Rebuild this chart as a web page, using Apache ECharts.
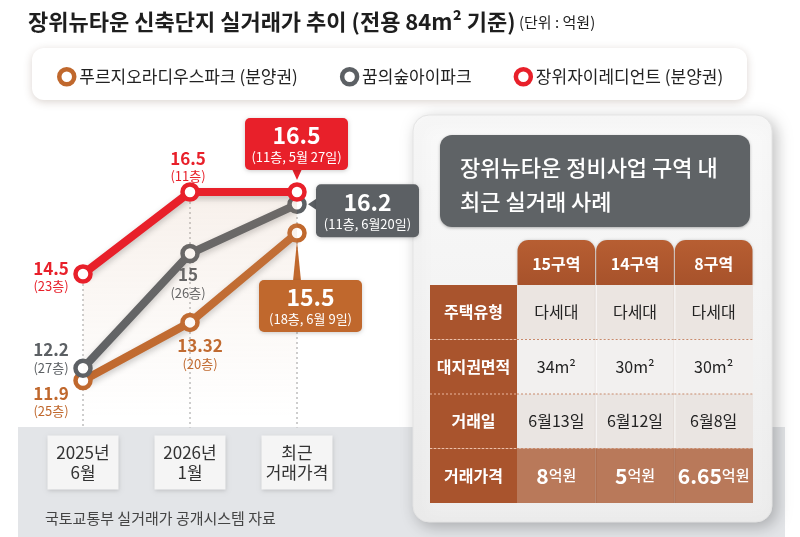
<!DOCTYPE html>
<html>
<head>
<meta charset="utf-8">
<script src="https://cdn.jsdelivr.net/npm/echarts@6/dist/echarts.min.js"></script>
<style>
  html, body { margin: 0; padding: 0; background: #fff; }
  #chart { width: 800px; height: 537px; }
</style>
</head>
<body>
<div id="chart"></div>
<script>
// ---- data ----
const periods = ['2025년\n6월', '2026년\n1월', '최근\n거래가격'];
const seriesNames = ['푸르지오라디우스파크 (분양권)', '꿈의숲아이파크', '장위자이레디언트 (분양권)'];
const prugio = [11.9, 13.32, 15.5];
const dreamForest = [12.2, 15, 16.2];
const xiRadiant = [14.5, 16.5, 16.5];
const prugioFloors = ['25층', '20층', '18층'];
const dreamFloors = ['27층', '26층', '11층'];
const xiFloors = ['23층', '11층', '11층'];
const latestDates = ['6월 9일', '6월20일', '5월 27일'];

const zones = ['15구역', '14구역', '8구역'];
const rowNames = ['주택유형', '대지권면적', '거래일', '거래가격'];
const houseType = ['다세대', '다세대', '다세대'];
const landArea = ['34m²', '30m²', '30m²'];
const dealDate = ['6월13일', '6월12일', '6월8일'];
const dealPrice = [8, 5, 6.65];

// ---- styles ----
const FONT = "'Noto Sans CJK KR', 'Noto Sans', sans-serif";
const colors = ['#c0682d', '#5c6064', '#e8202a'];
const values = [prugio, dreamForest, xiRadiant];
const floors = [prugioFloors, dreamFloors, xiFloors];
// label centre offset from point, for the first two points of each line
const labelOffsets = [
	[[-32, 21], [10, 32]],
	[[-32, -10], [-2, 30]],
	[[-32, 3], [-2, -25]]
];
// callout box [dx, dy, w, h] relative to last point
const callouts = [
	{ box: [-38, 47, 103, 52], pointer: 'up' },
	{ box: [19, -20, 103, 53], pointer: 'left' },
	{ box: [-52, -74, 103, 52], pointer: 'down' }
];
const tableRows = [houseType, landArea, dealDate, dealPrice];
const rowFills = ['#ebe5e1', '#f2f0ef', '#eae5e2', '#b9795a'];
const labelColWidth = 87;
const tabHeight = 45;

const chart = echarts.init(document.getElementById('chart'));

const lineSeries = values.map((vals, k) => ({
	type: 'line',
	name: seriesNames[k],
	xAxisIndex: 0,
	yAxisIndex: 0,
	z: 2 + k * 0.1,
	color: colors[k],
	symbol: 'circle',
	symbolSize: 15,
	itemStyle: { color: '#fff', borderColor: colors[k], borderWidth: 4.5 },
	lineStyle: {
		color: colors[k], width: 8,
		shadowColor: 'rgba(0,0,0,0.22)', shadowBlur: 6, shadowOffsetY: 3
	},
	areaStyle: k === 2 ? {
		origin: 'start',
		color: new echarts.graphic.LinearGradient(0, 0, 0, 1, [
			{ offset: 0, color: 'rgba(205,160,125,0.22)' },
			{ offset: 1, color: 'rgba(205,160,125,0)' }
		])
	} : undefined,
	emphasis: { disabled: true },
	data: vals.map((v, i) => ({
		value: v,
		label: i < vals.length - 1 ? {
			show: true,
			position: 'inside',
			offset: labelOffsets[k][i],
			formatter: `{n|${v}}\n{f|(${floors[k][i]})}`,
			rich: {
				n: { fontSize: 17, fontWeight: 'bold', lineHeight: 19, color: colors[k], fontFamily: FONT },
				f: { fontSize: 13, lineHeight: 17, color: colors[k], fontFamily: FONT }
			}
		} : { show: false }
	}))
}));

const last = periods.length - 1;

const option = {
	animation: false,
	textStyle: { fontFamily: FONT },
	legend: {
		left: 52,
		top: 62,
		itemWidth: 15,
		itemHeight: 15,
		itemGap: 42,
		icon: 'circle',
		textStyle: { fontSize: 17, color: '#222', fontFamily: FONT },
		data: seriesNames.map((n, k) => ({
			name: n,
			itemStyle: { color: '#fff', borderColor: colors[k], borderWidth: 4.5 }
		}))
	},
	grid: [
		{ left: 83, top: 171.5, width: 214, height: 246 },
		{ left: 517, top: 285, width: 236, height: 218 }
	],
	xAxis: [{
		type: 'category',
		data: periods,
		boundaryGap: false,
		axisLine: { show: false },
		axisTick: { show: false },
		splitLine: { show: false },
		axisLabel: {
			interval: 0,
			margin: 18,
			fontSize: 17,
			lineHeight: 20,
			color: '#333',
			fontFamily: FONT,
			backgroundColor: '#f5f5f5',
			width: 71,
			align: 'center',
			padding: [7, 0, 7, 0],
			shadowColor: 'rgba(0,0,0,0.15)',
			shadowBlur: 4,
			shadowOffsetY: 1
		}
	}, {
		type: 'category',
		gridIndex: 1,
		data: zones,
		show: false
	}],
	yAxis: [{
		type: 'value',
		min: 11,
		max: 17,
		show: false
	}, {
		type: 'category',
		gridIndex: 1,
		data: rowNames,
		inverse: true,
		show: false
	}],
	graphic: [
		{
			type: 'text', left: 28, top: 11, z: 1,
			style: {
				text: '{t|장위뉴타운 신축단지 실거래가 추이 (전용 84m² 기준)} {u|(단위 : 억원)}',
				rich: {
					t: { fontSize: 22, fontWeight: 'bold', fill: '#1e1e1e', fontFamily: FONT },
					u: { fontSize: 15, fill: '#1e1e1e', fontFamily: FONT }
				}
			}
		},
		{
			type: 'rect', z: -1,
			shape: { x: 32, y: 48, width: 715, height: 52, r: 12 },
			style: { fill: '#fff', shadowBlur: 8, shadowColor: 'rgba(90,60,40,0.22)', shadowOffsetY: 2 }
		},
		{
			type: 'rect', z: -3,
			shape: { x: 18, y: 427, width: 767, height: 110 },
			style: { fill: '#e3e5e8' }
		},
		{
			type: 'text', z: 1,
			style: {
				text: '국토교통부 실거래가 공개시스템 자료', x: 45, y: 518,
				verticalAlign: 'middle', fontSize: 15, fill: '#444', fontFamily: FONT
			}
		},
		{
			type: 'rect', z: -1,
			shape: { x: 413, y: 115, width: 359, height: 407, r: 16 },
			style: {
				fill: new echarts.graphic.LinearGradient(0, 0, 0, 1, [
					{ offset: 0, color: '#f9f9f9' },
					{ offset: 1, color: '#ededed' }
				]),
				stroke: '#e4e4e4',
				shadowBlur: 16, shadowColor: 'rgba(0,0,0,0.25)', shadowOffsetX: 4, shadowOffsetY: 4
			}
		},
		{
			type: 'rect', z: 0,
			shape: { x: 440, y: 135, width: 310, height: 92, r: 12 },
			style: { fill: '#5f6366', shadowBlur: 3, shadowColor: 'rgba(0,0,0,0.3)', shadowOffsetY: 1 }
		},
		{
			type: 'text', z: 1,
			style: {
				text: '장위뉴타운 정비사업 구역 내\n최근 실거래 사례', x: 460, y: 185,
				verticalAlign: 'middle', lineHeight: 34,
				fontSize: 22, fontWeight: 500, fill: '#fff', fontFamily: FONT
			}
		}
	],
	series: [
		{
			type: 'custom',
			name: 'drop',
			xAxisIndex: 0,
			yAxisIndex: 0,
			z: 1,
			silent: true,
			data: periods.map((p, i) => [i, Math.max(prugio[i], dreamForest[i], xiRadiant[i])]),
			renderItem: (params, api) => {
				const top = api.coord([api.value(0), api.value(1)]);
				const bottom = params.coordSys.y + params.coordSys.height + 10;
				return {
					type: 'line',
					shape: { x1: top[0], y1: top[1], x2: top[0], y2: bottom },
					style: { stroke: '#9c9c9c', lineWidth: 1, lineDash: [2, 3] }
				};
			}
		},
		...lineSeries,
		{
			type: 'custom',
			name: 'callouts',
			xAxisIndex: 0,
			yAxisIndex: 0,
			z: 4,
			silent: true,
			data: values.map((vals, k) => [last, vals[last], k]),
			renderItem: (params, api) => {
				const k = api.value(2);
				const v = api.value(1);
				const p = api.coord([api.value(0), v]);
				const c = callouts[k];
				const bx = p[0] + c.box[0], by = p[1] + c.box[1], bw = c.box[2], bh = c.box[3];
				let pts;
				if (c.pointer === 'down') {
					pts = [[p[0] - 5, by + bh - 1], [p[0] + 5, by + bh - 1], [p[0], by + bh + 10]];
				} else if (c.pointer === 'left') {
					pts = [[bx + 1, p[1] - 6], [bx + 1, p[1] + 6], [bx - 8, p[1]]];
				} else {
					pts = [[p[0] - 4, by + 1], [p[0] + 4, by + 1], [p[0], p[1] + 8]];
				}
				return {
					type: 'group',
					children: [
						{ type: 'polygon', shape: { points: pts }, style: { fill: colors[k] } },
						{
							type: 'rect',
							shape: { x: bx, y: by, width: bw, height: bh, r: 5 },
							style: { fill: colors[k], shadowBlur: 4, shadowColor: 'rgba(0,0,0,0.2)', shadowOffsetY: 1 }
						},
						{
							type: 'text',
							style: {
								x: bx + bw / 2, y: by + bh / 2,
								align: 'center', verticalAlign: 'middle',
								text: `{a|${v}}\n{b|(${floors[k][last]}, ${latestDates[k]})}`,
								rich: {
									a: { fontSize: 23, fontWeight: 'bold', lineHeight: 26, fill: '#fff', fontFamily: FONT },
									b: { fontSize: 13, lineHeight: 18, fill: '#fff', fontFamily: FONT }
								}
							}
						}
					]
				};
			}
		},
		{
			type: 'custom',
			name: 'tabs',
			xAxisIndex: 1,
			yAxisIndex: 1,
			silent: true,
			data: zones.map((z, c) => [c, 0]),
			renderItem: (params, api) => {
				const c = api.value(0);
				const ctr = api.coord([c, 0]);
				const size = api.size([1, 1]);
				const x = ctr[0] - size[0] / 2;
				const y = ctr[1] - size[1] / 2 - tabHeight;
				return {
					type: 'group',
					children: [
						{
							type: 'rect',
							shape: { x: x + 0.5, y: y, width: size[0] - 1, height: tabHeight, r: [11, 11, 0, 0] },
							style: {
								fill: new echarts.graphic.LinearGradient(0, 0, 0, 1, [
									{ offset: 0, color: '#b75e32' },
									{ offset: 1, color: '#a7522b' }
								]),
								shadowBlur: 3, shadowColor: 'rgba(0,0,0,0.2)'
							}
						},
						{
							type: 'text',
							style: {
								x: ctr[0], y: y + tabHeight / 2 + 1,
								align: 'center', verticalAlign: 'middle',
								text: zones[c], fontSize: 16, fontWeight: 'bold', fill: '#fff', fontFamily: FONT
							}
						}
					]
				};
			}
		},
		{
			type: 'custom',
			name: 'rowLabels',
			xAxisIndex: 1,
			yAxisIndex: 1,
			silent: true,
			data: rowNames.map((n, r) => [0, r]),
			renderItem: (params, api) => {
				const r = api.value(1);
				const ctr = api.coord([0, r]);
				const size = api.size([1, 1]);
				const x = params.coordSys.x - labelColWidth;
				const y = ctr[1] - size[1] / 2;
				const children = [
					{
						type: 'rect',
						shape: { x: x, y: y, width: labelColWidth, height: size[1] },
						style: { fill: '#a9542d' }
					},
					{
						type: 'text',
						style: {
							x: x + labelColWidth / 2, y: ctr[1],
							align: 'center', verticalAlign: 'middle',
							text: rowNames[r], fontSize: 16, fontWeight: 'bold', fill: '#fff', fontFamily: FONT
						}
					}
				];
				if (r > 0) {
					children.push({
						type: 'line',
						shape: { x1: x, y1: y, x2: x + labelColWidth, y2: y },
						style: { stroke: 'rgba(255,215,195,0.75)', lineWidth: 1, lineDash: [2, 2] }
					});
				}
				return { type: 'group', children: children };
			}
		},
		{
			type: 'custom',
			name: 'cells',
			xAxisIndex: 1,
			yAxisIndex: 1,
			silent: true,
			data: rowNames.flatMap((n, r) => zones.map((z, c) => [c, r])),
			renderItem: (params, api) => {
				const c = api.value(0), r = api.value(1);
				const ctr = api.coord([c, r]);
				const size = api.size([1, 1]);
				const w = size[0], h = size[1];
				const x = ctr[0] - w / 2, y = ctr[1] - h / 2;
				const isPrice = r === rowNames.length - 1;
				const children = [
					{ type: 'rect', shape: { x: x, y: y, width: w, height: h }, style: { fill: rowFills[r] } }
				];
				if (c > 0) {
					children.push({
						type: 'line',
						shape: { x1: x + 0.5, y1: y, x2: x + 0.5, y2: y + h },
						style: { stroke: isPrice ? 'rgba(150,85,55,0.35)' : 'rgba(255,255,255,0.9)', lineWidth: 1 }
					});
					children.push({
						type: 'line',
						shape: { x1: x - 0.5, y1: y, x2: x - 0.5, y2: y + h },
						style: { stroke: 'rgba(120,80,60,0.08)', lineWidth: 1 }
					});
				}
				if (r > 0) {
					children.push({
						type: 'line',
						shape: { x1: x, y1: y, x2: x + w, y2: y },
						style: { stroke: '#c98a6b', lineWidth: 1, lineDash: [2, 2] }
					});
				}
				const val = tableRows[r][c];
				children.push({
					type: 'text',
					style: isPrice ? {
						x: ctr[0], y: ctr[1], align: 'center', verticalAlign: 'middle',
						text: `{n|${val}}{u|억원}`,
						rich: {
							n: { fontSize: 21, fontWeight: 'bold', fill: '#fff', fontFamily: FONT },
							u: { fontSize: 15, fontWeight: 500, fill: '#fff', fontFamily: FONT }
						}
					} : {
						x: ctr[0], y: ctr[1], align: 'center', verticalAlign: 'middle',
						text: String(val), fontSize: 16, fill: '#222', fontFamily: FONT
					}
				});
				return { type: 'group', children: children };
			}
		}
	]
};

chart.setOption(option);
window.addEventListener('resize', () => chart.resize());
</script>
</body>
</html>
